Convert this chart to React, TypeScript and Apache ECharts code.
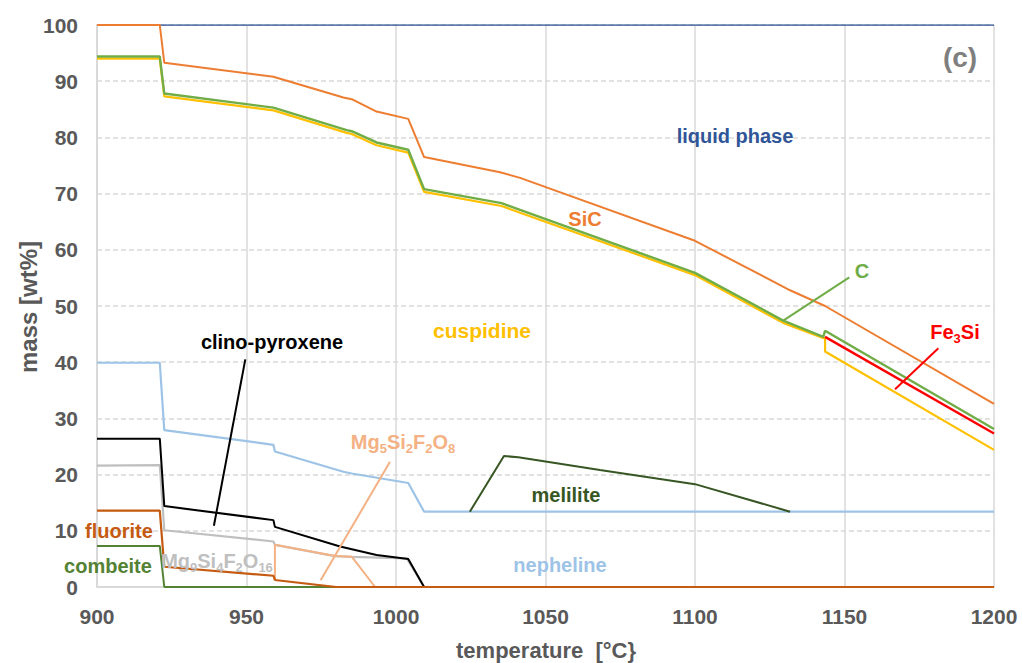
import React, { useEffect, useRef } from "react";
import * as echarts from "echarts";

// ---- data (temperature °C, cumulative mass wt%) ----
const xTicks = [900, 950, 1000, 1050, 1100, 1150, 1200];
const yTicks = [0, 10, 20, 30, 40, 50, 60, 70, 80, 90, 100];

const liquidPhase = [[921, 100], [1200, 100]];
const sic = [[900, 100], [921, 100], [922.5, 93.3], [959, 90.8], [982.4, 87.1], [985.2, 86.8], [993.5, 84.6], [1004.1, 83.3], [1009.4, 76.5], [1034.8, 73.8], [1041.5, 72.8], [1100, 61.6], [1131.8, 52.8], [1143.5, 50.0], [1200, 32.6]];
const cuspidine = [[900, 94.0], [921, 94.0], [922.5, 87.3], [959, 84.8], [983.5, 80.8], [985.2, 80.6], [993.5, 78.6], [1004.1, 77.3], [1009.4, 70.3], [1035.3, 67.8], [1041.5, 66.6], [1100, 55.5], [1129.5, 47.0], [1143.5, 44.2], [1143.5, 41.9], [1200, 24.4]];
const carbon = [[900, 94.4], [921, 94.4], [922.5, 87.8], [959, 85.3], [983.5, 81.3], [985.2, 81.1], [993.5, 79.1], [1004.1, 77.8], [1009.4, 70.8], [1035.3, 68.3], [1041.5, 67.1], [1100, 55.9], [1129.5, 47.4], [1142.9, 44.5], [1143.5, 45.6], [1200, 28.1]];
const fe3si = [[1143.5, 44.5], [1200, 27.3]];
const nepheline = [[900, 39.9], [921, 39.9], [922.5, 27.9], [959, 25.3], [959.5, 24.1], [982.4, 20.5], [985.2, 20.2], [1004.1, 18.5], [1009.4, 13.4], [1200, 13.4]];
const melilite = [[1024.7, 13.4], [1036.1, 23.3], [1040.9, 23.1], [1068.2, 20.8], [1100, 18.3], [1131.8, 13.4]];
const clinoPyroxene = [[900, 26.4], [921, 26.4], [922.5, 14.4], [959, 11.9], [959.5, 10.7], [981.3, 7.2], [993.5, 5.7], [1004.1, 5.0], [1009.4, 0]];
const mg9 = [[900, 21.6], [921, 21.7], [922.5, 10.1], [959, 8.1], [959.5, 7.5], [979.6, 5.5], [985.2, 5.35], [1003.6, 5.1], [1009.4, 0]];
const mg5 = [[959.5, 1.25], [959.5, 7.5], [979.6, 5.5], [985.2, 5.4], [993, 0]];
const combeite = [[900, 7.3], [921, 7.3], [922.5, 0], [985, 0]];
const fluorite = [[900, 13.6], [921, 13.6], [922.5, 3.6], [959, 2.0], [959.5, 1.25], [980, 0], [1200, 0]];

// leader lines (data coordinates)
const leaderC = [[1151.6, 55.1], [1129.5, 47.4]];
const leaderFe3Si = [[1181.4, 42.5], [1166.9, 35.2]];
const leaderClino = [[949.6, 40.5], [939.1, 10.9]];
const leaderMg5 = [[998, 22.3], [974.8, 1.2]];

const FONT = '"Liberation Sans", Arial, sans-serif';

function line(name: string, data: number[][], color: string, width = 2, z = 2) {
  return {
    name,
    type: "line",
    data,
    symbol: "none",
    lineStyle: { color, width },
    itemStyle: { color },
    z,
    silent: true,
  };
}

function label(text: string, x: number, y: number, color: string, size = 20, rich?: any) {
  return {
    type: "text",
    x,
    y,
    z: 100,
    style: {
      text,
      fill: color,
      fontFamily: FONT,
      fontWeight: "bold",
      fontSize: size,
      align: "center",
      verticalAlign: "middle",
      rich,
    },
  };
}

function subRich(color: string) {
  return {
    a: { fontFamily: FONT, fontWeight: "bold", fontSize: 20, fill: color, color },
    s: { fontFamily: FONT, fontWeight: "bold", fontSize: 13, fill: color, color, padding: [12, 0, 0, 0] },
  };
}

export default function App() {
  const ref = useRef<HTMLDivElement>(null);
  useEffect(() => {
    if (!ref.current) return;
    const chart = echarts.init(ref.current, null, { renderer: "svg" });
    chart.setOption({
      animation: false,
      backgroundColor: "#ffffff",
      grid: { left: 97, right: 28, top: 25, bottom: 76, containLabel: false },
      xAxis: {
        type: "value",
        min: xTicks[0],
        max: xTicks[xTicks.length - 1],
        interval: 50,
        axisLine: { show: true, lineStyle: { color: "#d9d9d9", width: 2 } },
        axisTick: { show: false },
        axisLabel: {
          color: "#595959",
          fontFamily: FONT,
          fontWeight: "bold",
          fontSize: 21,
          margin: 19,
          formatter: (v: number) => String(v),
        },
        splitLine: { show: true, lineStyle: { color: "#d9d9d9", width: 1.5, type: "solid" } },
      },
      yAxis: {
        type: "value",
        min: yTicks[0],
        max: yTicks[yTicks.length - 1],
        interval: 10,
        axisLine: { show: true, lineStyle: { color: "#d9d9d9", width: 2 } },
        axisTick: { show: false },
        axisLabel: {
          color: "#595959",
          fontFamily: FONT,
          fontWeight: "bold",
          fontSize: 21,
          margin: 19,
          formatter: (v: number) => String(v),
        },
        splitLine: { show: true, lineStyle: { color: "#d9d9d9", width: 1.5, type: [5, 3] } },
      },
      series: [
        line("liquid phase", liquidPhase, "#2f5597", 1.6),
        line("nepheline", nepheline, "#9dc3e6", 2.2),
        line("melilite", melilite, "#375623", 2),
        line("combeite", combeite, "#548235", 2),
        line("Mg9Si4F2O16", mg9, "#bfbfbf", 2.2),
        line("Mg5Si2F2O8", mg5, "#f4b183", 2),
        line("clino-pyroxene", clinoPyroxene, "#000000", 2),
        line("fluorite", fluorite, "#c55a11", 2.2),
        line("cuspidine", cuspidine, "#ffc000", 2.2),
        line("C", carbon, "#70ad47", 2.4),
        line("Fe3Si", fe3si, "#ff0000", 2.4),
        line("SiC", sic, "#ed7d31", 2),
        line("leader C", leaderC, "#70ad47", 2, 3),
        line("leader Fe3Si", leaderFe3Si, "#ff0000", 2, 3),
        line("leader clino", leaderClino, "#000000", 2, 3),
        line("leader Mg5", leaderMg5, "#f4b183", 2, 3),
      ],
      graphic: [
        label("liquid phase", 735, 136, "#2f5597"),
        label("(c)", 960, 57, "#7f7f7f", 28),
        label("SiC", 585, 219, "#ed7d31"),
        label("C", 862, 271, "#70ad47"),
        label("{a|Fe}{s|3}{a|Si}", 955, 332, "#ff0000", 20, subRich("#ff0000")),
        label("cuspidine", 482, 330, "#ffc000", 21),
        label("clino-pyroxene", 272, 342, "#000000"),
        label("{a|Mg}{s|5}{a|Si}{s|2}{a|F}{s|2}{a|O}{s|8}", 403, 442, "#f4b183", 20, subRich("#f4b183")),
        label("melilite", 566, 495, "#375623"),
        label("nepheline", 560, 565, "#9dc3e6"),
        label("fluorite", 119, 531, "#c55a11"),
        label("{a|Mg}{s|9}{a|Si}{s|4}{a|F}{s|2}{a|O}{s|16}", 217, 561, "#bfbfbf", 20, subRich("#bfbfbf")),
        label("combeite", 108, 566, "#548235"),
        {
          type: "text",
          x: 546,
          y: 650,
          z: 100,
          style: {
            text: "temperature  [°C}",
            fill: "#595959",
            fontFamily: FONT,
            fontWeight: "bold",
            fontSize: 22,
            align: "center",
            verticalAlign: "middle",
          },
        },
        {
          type: "text",
          x: 28,
          y: 307,
          rotation: Math.PI / 2,
          z: 100,
          style: {
            text: "mass [wt%]",
            fill: "#595959",
            fontFamily: FONT,
            fontWeight: "bold",
            fontSize: 24,
            align: "center",
            verticalAlign: "middle",
          },
        },
      ],
    });
    return () => chart.dispose();
  }, []);
  return (
    <div
      ref={ref}
      style={{ position: "fixed", left: 0, top: 0, width: 1022, height: 663, background: "#fff" }}
    />
  );
}
